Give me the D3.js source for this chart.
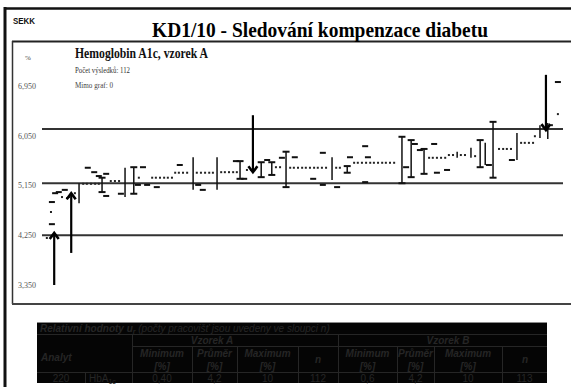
<!DOCTYPE html>
<html><head><meta charset="utf-8">
<script src="https://cdn.jsdelivr.net/npm/d3@7"></script>
<style>body{margin:0;background:#fff}svg{display:block}</style>
</head><body><svg id="c" width="571" height="387"></svg>
<script>
// ---------- DATA ----------
const chartTitle = "KD1/10 - Sledování kompenzace diabetu";
const analyteTitle = "Hemoglobin A1c, vzorek A";
const infoLines = ["Počet výsledků: 112", "Mimo graf: 0"];
const yTicks = [3.35, 4.25, 5.15, 6.05, 6.95];
const yTickLabels = ["3,350", "4,250", "5,150", "6,050", "6,950"];
const limitLines = [4.25, 5.19, 6.17];
// [rank position, value]
const dots = [[0.4,4.20],[1.3,4.67],[3.7,4.94],[4.8,4.92],[5.2,4.94],[6.5,5.01],
 [8.3,5.18],[9.1,5.18],[10.0,5.18],[10.9,5.18],[11.7,5.18],
 [14.3,5.23],[15.2,5.23],[16.1,5.23],[20.4,5.29],
 [23.3,5.29],[24.1,5.29],[25.0,5.29],[25.9,5.29],[26.7,5.29],[27.6,5.29],
 [28.3,5.38],[29.1,5.38],[30.0,5.38],[30.9,5.38],
 [33.0,5.38],[33.9,5.38],[34.8,5.38],[35.7,5.38],[36.5,5.38],
 [38.3,5.39],[39.1,5.39],[40.0,5.39],[40.9,5.39],[41.7,5.39],
 [43.9,5.43],[44.8,5.43],[50.2,5.48],[51.1,5.48],
 [53.3,5.47],[54.1,5.47],[55.0,5.47],[55.9,5.47],[56.7,5.47],[57.6,5.47],[58.5,5.47],[59.3,5.47],[60.2,5.47],[61.1,5.47],
 [63.3,5.47],[64.1,5.47],
 [67.2,5.56],[68.0,5.56],[68.9,5.56],[69.8,5.56],[70.7,5.56],[71.5,5.56],[72.4,5.56],[73.3,5.56],[74.1,5.56],[75.0,5.56],[75.9,5.56],
 [83.5,5.65],[84.3,5.65],[85.2,5.65],[86.1,5.65],[87.0,5.65],
 [87.8,5.70],[88.7,5.70],[90.4,5.70],[91.3,5.70],[93.5,5.68],
 [98.7,5.81],[99.6,5.81],[100.4,5.81],[101.3,5.81],
 [103.5,5.92],[104.3,5.92],[105.2,5.92],[106.1,5.92],[106.5,6.04],
 [110.2,6.24],[111.5,6.44]];
const dashes = [[1.5,4.45],[1.5,4.85],[2.2,5.01],[3.0,5.03],[4.3,5.07],
 [9.3,5.47],[10.7,5.39],[11.7,5.32],[13.3,5.36],[13.3,4.96],[16.5,5.00],
 [21.3,5.48],[20.2,5.16],[22.2,5.16],[24.3,5.12],[29.3,5.52],[33.3,5.16],[34.3,5.07],
 [41.5,5.59],[43.3,5.27],[48.3,5.61],[51.5,5.65],[54.3,5.66],[58.3,5.27],[60.4,5.74],[60.4,5.16],
 [63.5,5.12],[66.3,5.66],[69.6,5.86],[70.2,5.66],[69.6,5.21],
 [78.5,5.48],[80.4,5.90],[81.5,5.79],[84.6,5.90],[85.2,5.38],[87.4,5.43],[96.5,5.52],[101.5,5.61],[111.5,7.02]];
// [rank position, low, high, caps]
const bars = [[7.4,4.83,5.19,0],[12.4,5.03,5.29,1],[17.4,4.94,5.47,0],[19.3,5.00,5.48,1],
 [32.2,5.07,5.66,0],[37.4,5.07,5.66,0],[42.4,5.27,5.59,1],[47.0,5.30,5.57,1],[49.3,5.34,5.57,1],
 [52.4,5.12,5.76,1],[62.4,5.25,5.66,0],[65.7,5.38,5.50,1],[77.6,5.19,6.03,1],[79.6,5.30,5.97,1],
 [82.4,5.36,5.81,1],[89.6,5.65,5.76,0],[92.6,5.65,5.83,0],[94.6,5.48,5.97,1],[95.7,5.52,5.92,0],
 [97.4,5.29,6.30,1],[102.6,5.61,6.10,0],[107.6,6.01,6.24,0],[109.3,5.99,6.28,0]];
// [rank position, from value, to value (tip)]
const arrows = [[2.0,3.35,4.29],[5.7,3.93,5.01],[45.2,6.42,5.39],[108.9,7.15,6.15]];

const tableTitle = "Relativní hodnoty u";
const tableTitleSub = "r";
const tableTitleRest = " (počty pracovišť jsou uvedeny ve sloupci n)";
const analytHeader = "Analyt";
const sampleNames = ["Vzorek A", "Vzorek B"];
const statHeaders = ["Minimum", "Průměr", "Maximum"];
const unitLabel = "[%]";
const countHeader = "n";
const rowData = ["220", "HbA1c", "0,40", "4,2", "10", "112", "0,6", "4,2", "10", "113"];

// ---------- LAYOUT ----------
const svg = d3.select("#c");
svg.append("rect").attr("width",571).attr("height",387).attr("fill","#fff");

const x = d3.scaleLinear().domain([0,112]).range([45,560.2]);
const y = d3.scaleLinear().domain([3.35,6.95]).range([285,85.9]);

// frames
svg.append("line").attr("x1",4).attr("x2",571).attr("y1",8.5).attr("y2",8.5).attr("stroke","#111").attr("stroke-width",2.5);
svg.append("line").attr("x1",5).attr("x2",5).attr("y1",7).attr("y2",387).attr("stroke","#111").attr("stroke-width",3);
svg.append("line").attr("x1",12).attr("x2",571).attr("y1",41.5).attr("y2",41.5).attr("stroke","#222").attr("stroke-width",2);
svg.append("line").attr("x1",12.5).attr("x2",12.5).attr("y1",41).attr("y2",304).attr("stroke","#333").attr("stroke-width",1.5);
svg.append("line").attr("x1",12).attr("x2",571).attr("y1",304).attr("y2",304).attr("stroke","#444").attr("stroke-width",2);

svg.append("text").attr("x",13).attr("y",24).attr("font-family","Liberation Sans, Arial").attr("font-weight","bold")
  .attr("font-size",8.5).attr("textLength",22).attr("lengthAdjust","spacingAndGlyphs").attr("fill","#111").text("SEKK");
svg.append("text").attr("x",152).attr("y",37).attr("font-family","Liberation Serif, Times New Roman").attr("font-weight","bold")
  .attr("font-size",22).attr("textLength",336).attr("lengthAdjust","spacingAndGlyphs").attr("fill","#000").text(chartTitle);

svg.append("text").attr("x",75).attr("y",58).attr("font-family","Liberation Serif").attr("font-weight","bold")
  .attr("font-size",14).attr("textLength",133).attr("lengthAdjust","spacingAndGlyphs").attr("fill","#111").text(analyteTitle);
svg.append("text").attr("x",75).attr("y",73).attr("font-family","Liberation Serif").attr("font-size",8.5)
  .attr("textLength",55).attr("lengthAdjust","spacingAndGlyphs").attr("fill","#333").text(infoLines[0]);
svg.append("text").attr("x",75).attr("y",88).attr("font-family","Liberation Serif").attr("font-size",8)
  .attr("textLength",38).attr("lengthAdjust","spacingAndGlyphs").attr("fill","#444").text(infoLines[1]);
svg.append("text").attr("x",25).attr("y",60).attr("font-family","Liberation Serif").attr("font-size",7).attr("fill","#444").text("%");

// y labels
svg.append("g").selectAll("text").data(yTicks).join("text")
  .attr("x",36).attr("y",d=>y(d)+3).attr("text-anchor","end")
  .attr("font-family","Liberation Serif").attr("font-size",8).attr("fill","#555")
  .text((d,i)=>yTickLabels[i]);

// limit lines
svg.append("g").selectAll("line").data(limitLines).join("line")
  .attr("x1",42).attr("x2",563).attr("y1",d=>y(d)).attr("y2",d=>y(d))
  .attr("stroke","#333").attr("stroke-width",2);

// error bars
const gb = svg.append("g").attr("stroke","#111").attr("stroke-width",1.5);
bars.forEach(b=>{
  gb.append("line").attr("x1",x(b[0])).attr("x2",x(b[0])).attr("y1",y(b[1])).attr("y2",y(b[2]));
  if(b[3]){
    [b[1],b[2]].forEach(v=>gb.append("line").attr("x1",x(b[0])-3.5).attr("x2",x(b[0])+3.5).attr("y1",y(v)).attr("y2",y(v)).attr("stroke-width",2));
  }
});

// dashes
svg.append("g").selectAll("rect").data(dashes).join("rect")
  .attr("x",d=>x(d[0])-3).attr("y",d=>y(d[1])-1).attr("width",6).attr("height",2).attr("fill","#111");

// dots
svg.append("g").selectAll("rect").data(dots).join("rect")
  .attr("x",d=>x(d[0])-1).attr("y",d=>y(d[1])-1).attr("width",2).attr("height",2).attr("fill","#222");

// arrows
const ga = svg.append("g").attr("stroke","#000").attr("fill","none");
arrows.forEach(a=>{
  const xx = x(a[0]), y0 = y(a[1]), yt = y(a[2]);
  const d = yt < y0 ? 1 : -1; // 1 = pointing up
  ga.append("line").attr("x1",xx).attr("x2",xx).attr("y1",y0).attr("y2",yt+d*1).attr("stroke-width",2.2);
  ga.append("path").attr("d",`M${xx-4.5},${yt+d*6}L${xx},${yt}L${xx+4.5},${yt+d*6}`).attr("stroke-width",2.6);
});

// ---------- TABLE ----------
const tg = svg.append("g");
tg.append("rect").attr("x",37).attr("y",322).attr("width",510).attr("height",61).attr("fill","#050505");
tg.append("line").attr("x1",37).attr("x2",547).attr("y1",322.5).attr("y2",322.5).attr("stroke","#8a8a8a").attr("stroke-width",1);
const gl = (x1,x2,y1,y2)=>tg.append("line").attr("x1",x1).attr("x2",x2).attr("y1",y1).attr("y2",y2).attr("stroke","#262626").attr("stroke-width",1);
gl(37,547,334.5,334.5); gl(132,547,346.5,346.5); gl(37,547,372.5,372.5);
gl(85.5,85.5,372,383);
[132,338].forEach(c=>gl(c+0.5,c+0.5,334,383));
[192,237,298,397,434,502].forEach(c=>gl(c+0.5,c+0.5,346,383));

const tcol = "#262626";
const hdr = (t,xx,yy,anchor)=>tg.append("text").attr("x",xx).attr("y",yy).attr("text-anchor",anchor||"middle")
  .attr("font-family","Liberation Sans, Arial").attr("font-style","italic").attr("font-weight","bold")
  .attr("font-size",10).attr("fill",tcol).text(t);
const tt = tg.append("text").attr("x",40).attr("y",332).attr("font-family","Liberation Sans, Arial")
  .attr("font-style","italic").attr("font-size",10).attr("fill",tcol);
tt.append("tspan").attr("font-weight","bold").text(tableTitle);
tt.append("tspan").attr("font-weight","bold").attr("font-size",7).attr("dy",2).text(tableTitleSub);
tt.append("tspan").attr("dy",-2).text(tableTitleRest);

hdr(analytHeader,41,361,"start");
hdr(sampleNames[0],212,344);
hdr(sampleNames[1],448,344);
const statCols = [[132,192],[192,237],[237,298],[338,397],[397,434],[434,502]];
statCols.forEach((c,i)=>{
  const cx=(c[0]+c[1])/2;
  hdr(statHeaders[i%3],cx,357);
  hdr(unitLabel,cx,370);
});
hdr(countHeader,318,363); hdr(countHeader,525,363);

const dataCols = [[37,85],[85,132],[132,192],[192,237],[237,298],[298,338],[338,397],[397,434],[434,502],[502,547]];
dataCols.forEach((c,i)=>{
  const t = tg.append("text").attr("y",382).attr("font-family","Liberation Sans, Arial").attr("font-size",10).attr("fill",tcol);
  if(i===1){
    t.attr("x",c[0]+4).attr("text-anchor","start");
    t.append("tspan").text("HbA");
    t.append("tspan").attr("font-size",7).attr("dy",2).text("1c");
  } else {
    t.attr("x",(c[0]+c[1])/2).attr("text-anchor","middle").text(rowData[i]);
  }
});
</script>
</body></html>
